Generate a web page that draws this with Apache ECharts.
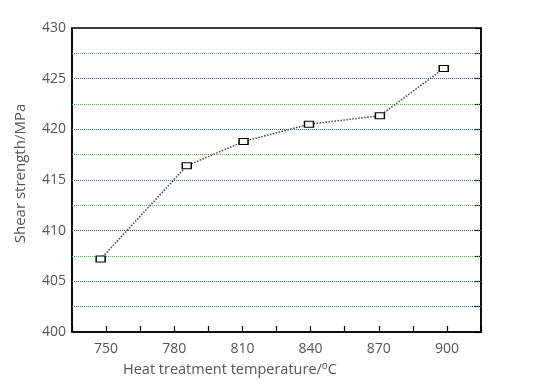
<!DOCTYPE html>
<html><head><meta charset="utf-8">
<script src="https://cdn.jsdelivr.net/npm/echarts@6/dist/echarts.min.js"></script>
<style>html,body{margin:0;padding:0;background:#fff}#c{width:554px;height:390px}</style>
</head><body><div id="c"></div>
<script>
const temperatures = [747.6, 785.5, 810.5, 839.3, 870.5, 898.6];
const shearStrength = [407.2, 416.4, 418.8, 420.5, 421.35, 426.0];
const xTickLabels = [750, 780, 810, 840, 870, 900];
const gridLevels = [402.5, 405, 407.5, 410, 412.5, 415, 417.5, 420, 422.5, 425, 427.5];
const gridColors = ['#2f62b0', '#2f62b0', '#3fbf4f', '#1f5f8f', '#3fbf4f', '#2f62b0', '#3fbf4f', '#2f62b0', '#3fbf4f', '#2f62b0', '#3fbf4f'];

const FONT = 'Open Sans';
const chart = echarts.init(document.getElementById('c'));
chart.setOption({
  animation: false,
  backgroundColor: '#fff',
  grid: { left: 72, top: 28, right: 73, bottom: 58, show: true, borderColor: '#000', borderWidth: 1.5 },
  xAxis: {
    type: 'value', min: 735, max: 915, interval: 15,
    axisLine: { show: true, lineStyle: { color: '#000', width: 1.5 } },
    axisTick: { show: true, inside: true, length: 6, lineStyle: { color: '#000', width: 1.2 } },
    axisLabel: {
      color: '#555', fontSize: 14, fontFamily: FONT, margin: 10,
      formatter: v => xTickLabels.indexOf(v) >= 0 ? String(v) : ''
    },
    splitLine: { show: false }
  },
  yAxis: [{
    type: 'value', min: 400, max: 430, interval: 5,
    axisLine: { show: true, lineStyle: { color: '#000', width: 1.5 } },
    axisTick: { show: false },
    axisLabel: { color: '#555', fontSize: 14, fontFamily: FONT, margin: 6 },
    splitLine: { show: false }
  }, {
    type: 'value', min: 400, max: 430, interval: 2.5, position: 'right',
    axisLine: { show: true, lineStyle: { color: '#000', width: 1.5 } },
    axisTick: { show: true, inside: true, length: 6, lineStyle: { color: '#000', width: 1.2 } },
    axisLabel: { show: false },
    splitLine: { show: false }
  }],
  series: [{
    type: 'line',
    data: temperatures.map((t, i) => [t, shearStrength[i]]),
    lineStyle: { color: '#444', width: 1.5, type: 'dotted' },
    symbol: 'rect', symbolSize: [9, 6], showSymbol: true,
    itemStyle: { color: '#fff', borderColor: '#000', borderWidth: 1.2 },
    z: 5,
    markLine: {
      silent: true, symbol: 'none', label: { show: false },
      data: gridLevels.map((v, i) => ({ yAxis: v, lineStyle: { color: gridColors[i], type: 'dotted', width: 1 } }))
    }
  }],
  graphic: [{
    type: 'text', left: 123, top: 361,
    style: {
      text: '{a|Heat treatment temperature/}{s|o}{a|C}',
      rich: {
        a: { fontSize: 14.5, fontFamily: FONT, fill: '#555' },
        s: { fontSize: 10, fontFamily: FONT, fill: '#555', verticalAlign: 'top', padding: [0, 0, 7, 0] }
      }
    }
  }, {
    type: 'text', x: 21, y: 173.5, rotation: Math.PI / 2,
    style: {
      text: 'Shear strength/MPa', fontSize: 15, fontFamily: FONT, fill: '#555',
      align: 'center', verticalAlign: 'middle'
    }
  }]
});
</script></body></html>
